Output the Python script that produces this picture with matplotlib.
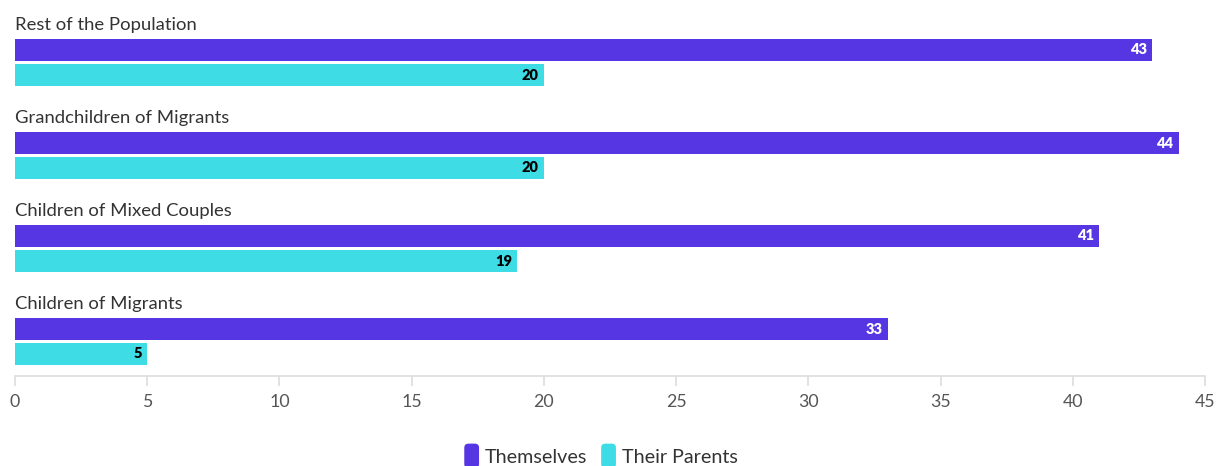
import matplotlib
matplotlib.use("Agg")
import matplotlib.pyplot as plt
from matplotlib.patches import Patch, FancyBboxPatch
from matplotlib.legend_handler import HandlerBase

categories = ["Rest of the Population", "Grandchildren of Migrants",
              "Children of Mixed Couples", "Children of Migrants"]
themselves = [43, 44, 41, 33]
parents = [20, 20, 19, 5]
series_names = ["Themselves", "Their Parents"]
xticks = [0, 5, 10, 15, 20, 25, 30, 35, 40, 45]

PURPLE = "#5536E2"
CYAN = "#3EDCE5"
FONT = "Lato"

W, H = 1217, 466
fig = plt.figure(figsize=(W / 100, H / 100), dpi=100)
ax_left, ax_right, ax_top, ax_bottom = 15, 1205, 0, 376
ax = fig.add_axes([ax_left / W, 1 - ax_bottom / H, (ax_right - ax_left) / W, (ax_bottom - ax_top) / H])
ax.set_xlim(0, 45)
ax.set_ylim(ax_bottom - ax_top, 0)

step = 93
bh = 22
for i, cat in enumerate(categories):
    y0 = 50 + step * i
    y1 = 75 + step * i
    ax.barh(y0, themselves[i], height=bh, color=PURPLE, edgecolor="none")
    ax.barh(y1, parents[i], height=bh, color=CYAN, edgecolor="none")
    ax.text(0, 25 + step * i, cat, ha="left", va="center", fontsize=13.3,
            color="#333333", family=FONT)
    ax.text(themselves[i] - 0.2, y0, str(themselves[i]), ha="right", va="center",
            fontsize=10.5, fontweight="heavy", color="white", family=FONT)
    ax.text(parents[i] - 0.2, y1, str(parents[i]), ha="right", va="center",
            fontsize=10.5, fontweight="heavy", color="black", family=FONT)

for s in ["top", "right", "left"]:
    ax.spines[s].set_visible(False)
ax.spines["bottom"].set_color("#dddddd")
ax.spines["bottom"].set_linewidth(1.2)
ax.set_yticks([])
ax.set_xticks(xticks)
ax.set_xticklabels([str(t) for t in xticks], fontsize=12.8, color="#555555", family=FONT)
ax.tick_params(axis="x", length=7, color="#dddddd", width=1.2, pad=6)


class RoundHandler(HandlerBase):
    def create_artists(self, legend, orig_handle, xdescent, ydescent, width, height, fontsize, trans):
        p = FancyBboxPatch((-xdescent, -ydescent - 2), width, height + 4,
                           boxstyle="round,pad=0,rounding_size=3",
                           facecolor=orig_handle.get_facecolor(), edgecolor="none",
                           transform=trans)
        return [p]


handles = [Patch(facecolor=PURPLE, edgecolor="none"), Patch(facecolor=CYAN, edgecolor="none")]
leg = fig.legend(handles, series_names, loc="center", bbox_to_anchor=(601 / W, 1 - 456 / H),
                 ncol=2, frameon=False, handlelength=0.75, handleheight=1.1,
                 handletextpad=0.3, columnspacing=0.7,
                 handler_map={Patch: RoundHandler()},
                 prop={"family": FONT, "size": 14.2})
for t in leg.get_texts():
    t.set_color("#333333")

fig.savefig("out.png", dpi=100)
